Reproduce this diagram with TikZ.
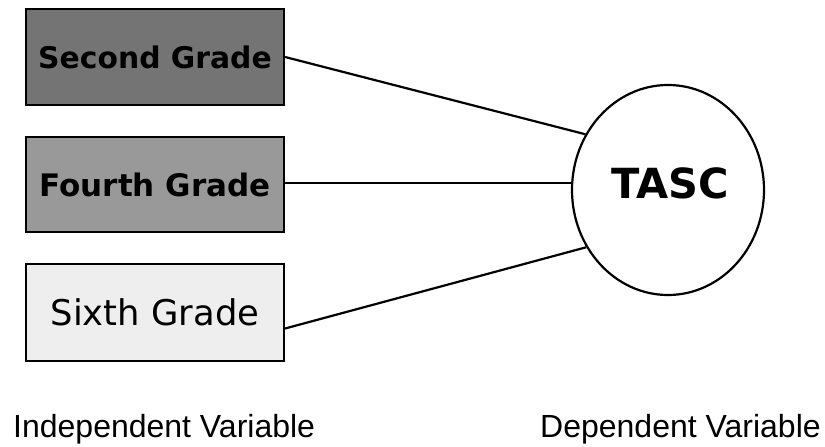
\documentclass[tikz,border=0pt]{standalone}
\usepackage{fontspec}
\setmainfont{Liberation Sans}
\newfontfamily\boxfont{DejaVu Sans}
\usetikzlibrary{shapes.geometric}
\definecolor{gradetwo}{HTML}{747474}
\definecolor{gradefour}{HTML}{999999}
\definecolor{gradesix}{HTML}{EEEEEE}
\tikzset{
  gradebox/.style={draw=black, line width=2.2pt, rectangle, minimum width=258pt, inner sep=0pt, text=black},
  link/.style={draw=black, line width=2.2pt},
  varlabel/.style={anchor=base west, inner sep=0pt, font=\fontsize{32pt}{36pt}\selectfont}
}
\begin{document}
\begin{tikzpicture}[x=1pt, y=-1pt]
\useasboundingbox (0,0) rectangle (825,447);
\node[gradebox, fill=gradetwo, minimum height=96pt, font=\boxfont\bfseries\fontsize{29.8pt}{33pt}\selectfont] (two) at (155,57) {Second Grade};
\node[gradebox, fill=gradefour, minimum height=95pt, font=\boxfont\bfseries\fontsize{31pt}{34pt}\selectfont] (four) at (155,184.5) {Fourth Grade};
\node[gradebox, fill=gradesix, minimum height=97pt, font=\boxfont\fontsize{35.4pt}{39pt}\selectfont] (six) at (155,312.5) {Sixth Grade};
\node[draw=black, line width=2.2pt, ellipse, minimum width=192pt, minimum height=210pt, inner sep=0pt] (tasc) at (668,190) {};
\node[font=\boxfont\bfseries\fontsize{41.5pt}{45pt}\selectfont, inner sep=0pt] (tasclabel) at (670,183) {TASC};
\coordinate (fourout) at ([yshift=1.5pt]four.east);
\coordinate (sixout) at ([yshift=-16pt]six.east);
\draw[link] (two.east) -- (tasc.146);
\draw[link] (fourout) -- (fourout -| tasc.west);
\draw[link] (sixout) -- (tasc.215);
\node[varlabel] (indep) at (13,437) {Independent Variable};
\node[varlabel] (dep) at (540,437) {Dependent Variable};
\end{tikzpicture}
\end{document}
